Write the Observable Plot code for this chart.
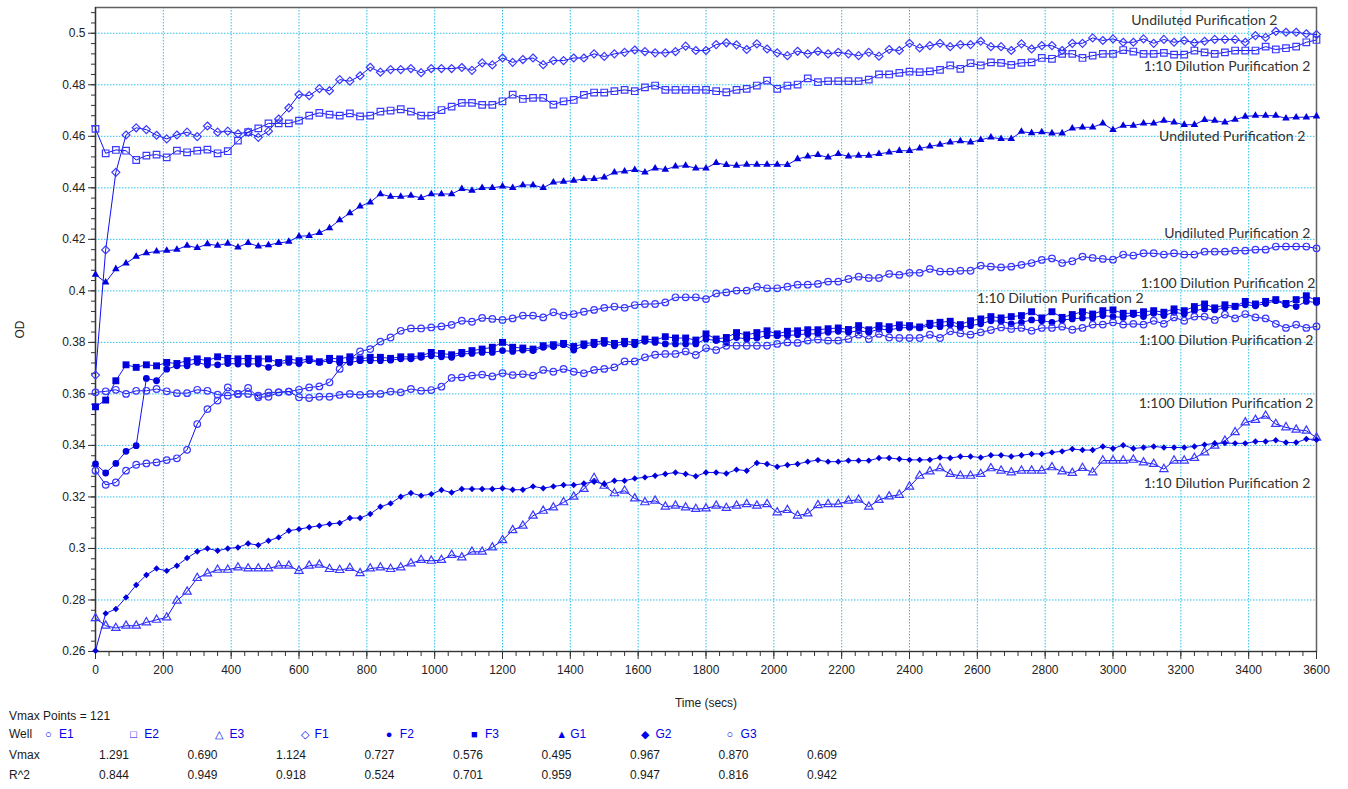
<!DOCTYPE html>
<html><head><meta charset="utf-8">
<script src="https://cdn.jsdelivr.net/npm/d3@7"></script>
<script src="https://cdn.jsdelivr.net/npm/@observablehq/plot@0.6"></script>
<style>
html,body{margin:0;padding:0;background:#fff;}
#wrap{position:relative;width:1348px;height:789px;overflow:hidden;font-family:"Liberation Sans",Arial,sans-serif;}
#wrap svg{display:block;}
.cell{position:absolute;font-size:12px;color:#1a1a1a;white-space:nowrap;line-height:14px;}
.blue{color:#0000ee;}
.sym{font-size:11px;display:inline-block;width:14px;vertical-align:0px;}
</style></head><body><div id="wrap"></div>
<script>
// ---------- data ----------
const timeSecs = d3.range(0, 3601, 30); // 121 read points
const E1 = [0.3606,0.3610,0.3616,0.3600,0.3612,0.3612,0.3619,0.3610,0.3603,0.3603,
0.3616,0.3612,0.3597,0.3593,0.3600,0.3600,0.3593,0.3606,0.3606,0.3609,
0.3616,0.3625,0.3629,0.3645,0.3697,0.3736,0.3765,0.3774,0.3803,0.3819,
0.3845,0.3854,0.3854,0.3858,0.3862,0.3868,0.3884,0.3880,0.3895,0.3891,
0.3887,0.3893,0.3904,0.3904,0.3897,0.3917,0.3904,0.3910,0.3919,0.3926,
0.3934,0.3939,0.3934,0.3945,0.3949,0.3949,0.3955,0.3975,0.3975,0.3975,
0.3968,0.3990,0.3994,0.4001,0.4001,0.4016,0.4010,0.4010,0.4016,0.4024,
0.4024,0.4027,0.4036,0.4036,0.4046,0.4055,0.4050,0.4050,0.4066,0.4062,
0.4070,0.4070,0.4085,0.4075,0.4075,0.4078,0.4078,0.4098,0.4094,0.4091,
0.4094,0.4101,0.4108,0.4120,0.4126,0.4108,0.4115,0.4133,0.4128,0.4124,
0.4121,0.4141,0.4137,0.4146,0.4146,0.4141,0.4146,0.4141,0.4141,0.4152,
0.4152,0.4152,0.4156,0.4156,0.4160,0.4160,0.4172,0.4172,0.4172,0.4172,
0.4165];
const E2 = [0.4629,0.4534,0.4547,0.4544,0.4508,0.4525,0.4529,0.4518,0.4544,0.4538,
0.4544,0.4548,0.4534,0.4542,0.4583,0.4616,0.4631,0.4650,0.4650,0.4650,
0.4661,0.4680,0.4691,0.4684,0.4680,0.4689,0.4677,0.4680,0.4696,0.4700,
0.4705,0.4696,0.4680,0.4680,0.4702,0.4715,0.4730,0.4730,0.4722,0.4722,
0.4736,0.4762,0.4745,0.4749,0.4749,0.4723,0.4736,0.4741,0.4761,0.4770,
0.4770,0.4775,0.4780,0.4775,0.4790,0.4797,0.4780,0.4780,0.4780,0.4780,
0.4780,0.4775,0.4771,0.4780,0.4784,0.4797,0.4816,0.4784,0.4797,0.4801,
0.4825,0.4810,0.4814,0.4814,0.4814,0.4814,0.4820,0.4840,0.4840,0.4846,
0.4851,0.4849,0.4852,0.4858,0.4875,0.4862,0.4884,0.4875,0.4887,0.4885,
0.4877,0.4885,0.4887,0.4904,0.4901,0.4920,0.4920,0.4904,0.4913,0.4920,
0.4920,0.4935,0.4929,0.4920,0.4920,0.4924,0.4917,0.4917,0.4933,0.4926,
0.4920,0.4926,0.4933,0.4933,0.4933,0.4948,0.4937,0.4942,0.4948,0.4965,
0.4974];
const E3 = [0.2729,0.2700,0.2691,0.2700,0.2700,0.2713,0.2723,0.2732,0.2797,0.2832,
0.2885,0.2903,0.2917,0.2917,0.2926,0.2922,0.2922,0.2922,0.2933,0.2933,
0.2913,0.2933,0.2937,0.2920,0.2916,0.2924,0.2904,0.2922,0.2926,0.2920,
0.2926,0.2942,0.2955,0.2952,0.2955,0.2975,0.2965,0.2987,0.2987,0.3004,
0.3032,0.3071,0.3088,0.3127,0.3146,0.3159,0.3179,0.3201,0.3231,0.3273,
0.3243,0.3214,0.3224,0.3194,0.3179,0.3185,0.3162,0.3166,0.3159,0.3153,
0.3155,0.3166,0.3157,0.3166,0.3172,0.3166,0.3172,0.3140,0.3149,0.3127,
0.3136,0.3168,0.3172,0.3172,0.3185,0.3189,0.3162,0.3188,0.3202,0.3208,
0.3240,0.3282,0.3299,0.3311,0.3289,0.3282,0.3282,0.3289,0.3311,0.3302,
0.3295,0.3302,0.3302,0.3302,0.3315,0.3299,0.3293,0.3312,0.3295,0.3341,
0.3341,0.3341,0.3344,0.3334,0.3328,0.3308,0.3341,0.3341,0.3351,0.3373,
0.3399,0.3418,0.3451,0.3489,0.3499,0.3515,0.3483,0.3470,0.3461,0.3457,
0.3430];
const F1 = [0.3673,0.4159,0.4460,0.4605,0.4633,0.4626,0.4604,0.4590,0.4605,0.4616,
0.4599,0.4640,0.4616,0.4620,0.4610,0.4616,0.4596,0.4620,0.4667,0.4710,
0.4762,0.4758,0.4785,0.4777,0.4820,0.4814,0.4835,0.4868,0.4849,0.4859,
0.4859,0.4863,0.4847,0.4863,0.4863,0.4863,0.4867,0.4856,0.4885,0.4877,
0.4904,0.4887,0.4898,0.4904,0.4878,0.4894,0.4894,0.4904,0.4904,0.4920,
0.4910,0.4920,0.4926,0.4935,0.4929,0.4924,0.4924,0.4929,0.4950,0.4933,
0.4933,0.4956,0.4963,0.4955,0.4937,0.4959,0.4939,0.4924,0.4913,0.4930,
0.4920,0.4930,0.4920,0.4926,0.4920,0.4913,0.4926,0.4911,0.4937,0.4933,
0.4961,0.4943,0.4952,0.4961,0.4948,0.4956,0.4956,0.4969,0.4948,0.4948,
0.4933,0.4959,0.4939,0.4952,0.4952,0.4933,0.4961,0.4961,0.4982,0.4972,
0.4978,0.4965,0.4965,0.4978,0.4961,0.4976,0.4965,0.4972,0.4963,0.4969,
0.4976,0.4976,0.4976,0.4965,0.4991,0.4984,0.5007,0.5004,0.5004,0.4998,
0.4995];
const F2 = [0.3328,0.3293,0.3330,0.3377,0.3399,0.3660,0.3651,0.3696,0.3709,0.3709,
0.3722,0.3712,0.3713,0.3718,0.3716,0.3716,0.3716,0.3703,0.3718,0.3722,
0.3718,0.3729,0.3722,0.3729,0.3722,0.3722,0.3729,0.3729,0.3729,0.3731,
0.3736,0.3736,0.3742,0.3748,0.3744,0.3742,0.3755,0.3757,0.3761,0.3761,
0.3768,0.3765,0.3770,0.3768,0.3781,0.3784,0.3791,0.3770,0.3787,0.3791,
0.3796,0.3787,0.3794,0.3791,0.3804,0.3800,0.3794,0.3794,0.3794,0.3794,
0.3813,0.3807,0.3800,0.3819,0.3813,0.3817,0.3826,0.3826,0.3826,0.3830,
0.3833,0.3833,0.3839,0.3843,0.3839,0.3845,0.3839,0.3852,0.3848,0.3856,
0.3858,0.3856,0.3865,0.3861,0.3868,0.3858,0.3865,0.3872,0.3884,0.3882,
0.3872,0.3878,0.3887,0.3884,0.3878,0.3887,0.3891,0.3895,0.3895,0.3904,
0.3900,0.3897,0.3908,0.3900,0.3913,0.3904,0.3917,0.3910,0.3923,0.3930,
0.3926,0.3934,0.3939,0.3946,0.3942,0.3951,0.3962,0.3946,0.3939,0.3959,
0.3955];
const F3 = [0.3550,0.3576,0.3651,0.3713,0.3703,0.3713,0.3709,0.3722,0.3718,0.3729,
0.3736,0.3729,0.3744,0.3738,0.3736,0.3738,0.3736,0.3736,0.3722,0.3736,
0.3729,0.3736,0.3725,0.3738,0.3736,0.3744,0.3736,0.3742,0.3742,0.3738,
0.3744,0.3744,0.3748,0.3761,0.3757,0.3752,0.3761,0.3768,0.3774,0.3781,
0.3800,0.3781,0.3778,0.3774,0.3787,0.3791,0.3796,0.3784,0.3794,0.3800,
0.3807,0.3796,0.3804,0.3800,0.3813,0.3809,0.3822,0.3817,0.3817,0.3809,
0.3833,0.3813,0.3819,0.3838,0.3829,0.3838,0.3845,0.3833,0.3843,0.3845,
0.3849,0.3849,0.3853,0.3856,0.3850,0.3865,0.3849,0.3865,0.3861,0.3868,
0.3865,0.3860,0.3874,0.3878,0.3882,0.3869,0.3884,0.3891,0.3900,0.3895,
0.3900,0.3904,0.3919,0.3895,0.3919,0.3897,0.3908,0.3919,0.3910,0.3923,
0.3926,0.3913,0.3913,0.3919,0.3923,0.3917,0.3930,0.3923,0.3939,0.3949,
0.3934,0.3946,0.3940,0.3959,0.3949,0.3959,0.3966,0.3951,0.3966,0.3981,
0.3962];
const G1 = [0.4063,0.4033,0.4085,0.4107,0.4133,0.4147,0.4153,0.4156,0.4160,0.4176,
0.4167,0.4182,0.4176,0.4184,0.4169,0.4186,0.4173,0.4178,0.4186,0.4191,
0.4212,0.4214,0.4225,0.4244,0.4275,0.4302,0.4328,0.4344,0.4376,0.4366,
0.4366,0.4370,0.4361,0.4376,0.4376,0.4376,0.4396,0.4389,0.4400,0.4400,
0.4406,0.4400,0.4411,0.4411,0.4400,0.4421,0.4424,0.4428,0.4435,0.4435,
0.4441,0.4460,0.4464,0.4470,0.4460,0.4476,0.4471,0.4483,0.4486,0.4476,
0.4476,0.4497,0.4489,0.4486,0.4490,0.4490,0.4490,0.4490,0.4489,0.4512,
0.4522,0.4528,0.4518,0.4532,0.4522,0.4525,0.4525,0.4532,0.4538,0.4544,
0.4544,0.4553,0.4561,0.4568,0.4577,0.4581,0.4577,0.4586,0.4596,0.4590,
0.4590,0.4618,0.4613,0.4616,0.4612,0.4612,0.4631,0.4635,0.4635,0.4650,
0.4625,0.4642,0.4642,0.4650,0.4650,0.4661,0.4654,0.4645,0.4645,0.4664,
0.4661,0.4654,0.4665,0.4677,0.4680,0.4680,0.4680,0.4670,0.4674,0.4674,
0.4678];
const G2 = [0.2603,0.2748,0.2765,0.2810,0.2858,0.2897,0.2922,0.2913,0.2933,0.2963,
0.2988,0.3000,0.2991,0.3000,0.3004,0.3019,0.3013,0.3030,0.3043,0.3069,
0.3075,0.3082,0.3088,0.3095,0.3099,0.3118,0.3118,0.3134,0.3162,0.3175,
0.3201,0.3215,0.3205,0.3211,0.3227,0.3217,0.3231,0.3231,0.3231,0.3231,
0.3234,0.3228,0.3228,0.3241,0.3234,0.3241,0.3246,0.3246,0.3252,0.3259,
0.3250,0.3263,0.3263,0.3272,0.3276,0.3282,0.3289,0.3295,0.3289,0.3280,
0.3295,0.3295,0.3291,0.3306,0.3302,0.3332,0.3328,0.3317,0.3324,0.3328,
0.3337,0.3343,0.3337,0.3337,0.3341,0.3341,0.3341,0.3351,0.3351,0.3347,
0.3344,0.3344,0.3344,0.3353,0.3351,0.3357,0.3357,0.3353,0.3362,0.3362,
0.3357,0.3362,0.3367,0.3367,0.3373,0.3377,0.3386,0.3382,0.3382,0.3396,
0.3388,0.3401,0.3388,0.3392,0.3396,0.3392,0.3392,0.3392,0.3396,0.3403,
0.3408,0.3409,0.3408,0.3408,0.3415,0.3415,0.3420,0.3411,0.3411,0.3425,
0.3422];
const G3 = [0.3302,0.3247,0.3256,0.3302,0.3325,0.3330,0.3334,0.3343,0.3350,0.3383,
0.3483,0.3541,0.3574,0.3625,0.3600,0.3623,0.3587,0.3589,0.3606,0.3609,
0.3587,0.3584,0.3589,0.3589,0.3596,0.3600,0.3596,0.3600,0.3600,0.3609,
0.3606,0.3619,0.3612,0.3615,0.3628,0.3662,0.3664,0.3671,0.3675,0.3668,
0.3681,0.3673,0.3677,0.3671,0.3693,0.3686,0.3697,0.3686,0.3680,0.3693,
0.3697,0.3703,0.3726,0.3726,0.3742,0.3752,0.3755,0.3755,0.3765,0.3751,
0.3778,0.3770,0.3787,0.3787,0.3787,0.3787,0.3787,0.3794,0.3800,0.3798,
0.3807,0.3811,0.3807,0.3807,0.3813,0.3830,0.3813,0.3833,0.3819,0.3817,
0.3817,0.3817,0.3830,0.3817,0.3843,0.3835,0.3830,0.3839,0.3848,0.3858,
0.3852,0.3856,0.3845,0.3856,0.3856,0.3861,0.3849,0.3856,0.3869,0.3869,
0.3878,0.3869,0.3872,0.3869,0.3884,0.3872,0.3897,0.3884,0.3900,0.3900,
0.3887,0.3908,0.3893,0.3910,0.3897,0.3893,0.3872,0.3856,0.3869,0.3856,
0.3862];

const wells = ["E1","E2","E3","F1","F2","F3","G1","G2","G3"];
const wellSymbols = ["○","□","△","◇","●","■","▲","◆","○"];
const vmaxValues = ["1.291","0.690","1.124","0.727","0.576","0.495","0.967","0.870","0.609"];
const r2Values = ["0.844","0.949","0.918","0.524","0.701","0.959","0.947","0.816","0.942"];
const vmaxPoints = 121;
const xTicks = d3.range(0, 3601, 200);
const xMinorTicks = d3.range(0, 3601, 40);
const yTicks = d3.range(0, 13).map(i => +(0.26 + i * 0.02).toFixed(2));
const yMinorTicks = d3.range(0, 63).map(i => +(0.26 + i * 0.004).toFixed(3));
const seriesLabels = [
  {text: "Undiluted Purification 2", t: 3485, od: 0.5049},
  {text: "1:10 Dilution Purification 2", t: 3582, od: 0.4871},
  {text: "Undiluted Purification 2", t: 3567, od: 0.4599},
  {text: "Undiluted Purification 2", t: 3582, od: 0.4222},
  {text: "1:100 Dilution Purification 2", t: 3597, od: 0.4028},
  {text: "1:10 Dilution Purification 2", t: 3090, od: 0.3971},
  {text: "1:100 Dilution Purification 2", t: 3591, od: 0.3807},
  {text: "1:100 Dilution Purification 2", t: 3591, od: 0.3562},
  {text: "1:10 Dilution Purification 2", t: 3582, od: 0.3252}
];

// ---------- build ----------
const seriesValues = {E1, E2, E3, F1, F2, F3, G1, G2, G3};
for (const k in seriesValues) if (seriesValues[k].length !== timeSecs.length) throw new Error(k + " has " + seriesValues[k].length);

const markerStyle = {
  E1: {symbol: "circle", filled: false, r: 3.3},
  E2: {symbol: "square", filled: false, r: 3.7},
  E3: {symbol: "triangle", filled: false, r: 3.1},
  F1: {symbol: "diamond2", filled: false, r: 3.6},
  F2: {symbol: "circle", filled: true, r: 3.4},
  F3: {symbol: "square", filled: true, r: 3.9},
  G1: {symbol: "triangle", filled: true, r: 2.8},
  G2: {symbol: "diamond2", filled: true, r: 2.9},
  G3: {symbol: "circle", filled: false, r: 3.3}
};
const rows = wells.flatMap(w => seriesValues[w].map((v, i) => ({well: w, t: timeSecs[i], od: v})));

const lineColor = "#1010f0";
const openColor = "#3a3aff";
const fillColor = "#0000dc";
const gridColor = "#2cc0ea";

const dotMarks = wells.map(w => {
  const s = markerStyle[w];
  const d = rows.filter(r => r.well === w);
  return s.filled
    ? Plot.dot(d, {x: "t", y: "od", symbol: () => s.symbol, r: s.r, fill: fillColor, stroke: "none"})
    : Plot.dot(d, {x: "t", y: "od", symbol: () => s.symbol, r: s.r, fill: "white", fillOpacity: 0, stroke: openColor, strokeWidth: 1.2});
});

const chart = Plot.plot({
  width: 1348, height: 712,
  marginLeft: 95, marginRight: 32, marginTop: 7, marginBottom: 61,
  x: {domain: [0, 3600]},
  y: {domain: [0.26, 0.51]},
  symbol: {type: "identity"},
  style: {fontFamily: "Liberation Sans, Arial, sans-serif", fontSize: "12px", color: "#222", background: "white", overflow: "visible"},
  marks: [
    Plot.gridX({ticks: xTicks, stroke: gridColor, strokeOpacity: 1, strokeWidth: 1, strokeDasharray: "1.5,1.5"}),
    Plot.gridY({ticks: yTicks, stroke: gridColor, strokeOpacity: 1, strokeWidth: 1, strokeDasharray: "1.5,1.5"}),
    Plot.frame({stroke: "#606060", strokeWidth: 1.5}),
    Plot.axisX({ticks: xMinorTicks, tickSize: 5, text: null, label: null, stroke: "#333"}),
    Plot.axisX({ticks: xTicks, tickSize: 8, tickPadding: 6, tickFormat: d => String(d), label: "Time (secs)", labelAnchor: "center", labelOffset: 55, labelArrow: "none", stroke: "#333", fill: "#222", fontSize: 12}),
    Plot.axisY({ticks: yMinorTicks, tickSize: 4, text: null, label: null, stroke: "#333"}),
    Plot.axisY({ticks: yTicks, tickSize: 7, tickPadding: 3, tickFormat: d => String(+d.toFixed(2)), label: "OD", labelAnchor: "center", labelOffset: 80, labelArrow: "none", stroke: "#333", fill: "#222", fontSize: 12}),
    Plot.ruleX([0], {stroke: "#333", strokeWidth: 1.2}),
    Plot.ruleY([0.26], {stroke: "#333", strokeWidth: 1.2}),
    Plot.line(rows, {x: "t", y: "od", z: "well", stroke: lineColor, strokeWidth: 1}),
    ...dotMarks,
    Plot.text(seriesLabels, {x: "t", y: "od", text: "text", textAnchor: "end", fill: "#333", fontSize: 14, fontFamily: "Lato, Open Sans, sans-serif"})
  ]
});
const wrap = document.getElementById("wrap");
wrap.appendChild(chart);

// ---------- table below ----------
function cell(text, left, top, cls, align) {
  const el = document.createElement("div");
  el.className = "cell" + (cls ? " " + cls : "");
  el.textContent = text;
  el.style.top = top + "px";
  if (align === "right") { el.style.left = (left - 60) + "px"; el.style.width = "60px"; el.style.textAlign = "right"; }
  else el.style.left = left + "px";
  wrap.appendChild(el);
  return el;
}
cell("Vmax Points = " + vmaxPoints, 9, 709);
cell("Well", 9, 727);
cell("Vmax", 9, 748);
cell("R^2", 9, 768);
wells.forEach((w, i) => {
  const colX = 45 + i * 85.2;
  const el = cell("", colX, 727, "blue");
  const s = document.createElement("span");
  s.className = "sym";
  s.textContent = wellSymbols[i];
  el.appendChild(s);
  el.appendChild(document.createTextNode(w));
  cell(vmaxValues[i], 129 + i * 88.5, 748, "", "right");
  cell(r2Values[i], 129 + i * 88.5, 768, "", "right");
});
</script></body></html>
